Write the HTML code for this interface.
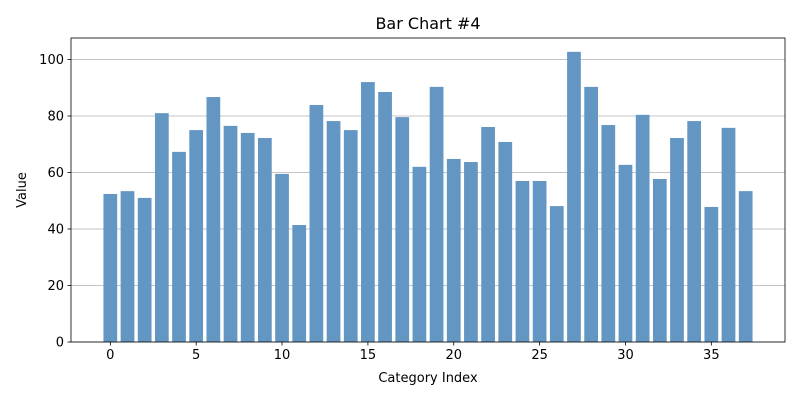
<!DOCTYPE html>
<html><head><meta charset="utf-8"><style>
body{margin:0;background:#fff;font-family:"Liberation Sans","DejaVu Sans",sans-serif}
svg text{font-family:"DejaVu Sans","Liberation Sans",sans-serif}
</style></head><body>
<svg id="chart" width="800" height="400"></svg>
<script>
const categories=[...Array(38).keys()];
const values=[52.4,53.4,51,81,67.3,75,86.7,76.5,74,72.2,59.5,41.4,83.9,78.2,75,92,88.5,79.6,62,90.3,64.8,63.7,76.1,70.8,57,57,48.1,102.7,90.3,76.8,62.7,80.4,57.7,72.2,78.2,47.8,75.8,53.4];
const xTicks=[0,5,10,15,20,25,30,35];
const yTicks=[0,20,40,60,80,100];
const L=71,R=785,T=38,B=342;
const xmin=-2.29,xmax=39.29,ymax=107.6;
const xs=v=>L+(v-xmin)/(xmax-xmin)*(R-L);
const ys=v=>B-v/ymax*(B-T);
const svg=document.getElementById('chart');
const NS='http://www.w3.org/2000/svg';
function mk(tag,attrs,parent){const e=document.createElementNS(NS,tag);for(const k in attrs)e.setAttribute(k,attrs[k]);(parent||svg).appendChild(e);return e;}
yTicks.forEach(v=>{
  const g=mk('line',{x1:L,x2:R,y1:ys(v),y2:ys(v),stroke:'#b0b0b0','stroke-width':0.8});
  
  
});
categories.forEach((c,i)=>{
  const w=0.8*(R-L)/(xmax-xmin);
  const r=mk('rect',{x:xs(c)-w/2,y:ys(values[i]),width:w,height:B-ys(values[i]),fill:'#6496c3'});
  
  
});
const frame=mk('rect',{x:L,y:T,width:R-L,height:B-T,fill:'none',stroke:'#000','stroke-width':0.8});


xTicks.forEach(v=>{
  mk('line',{x1:xs(v),x2:xs(v),y1:B,y2:B+3.5,stroke:'#000','stroke-width':0.8});
  const t=mk('text',{x:xs(v),y:B+17,'text-anchor':'middle','font-size':13});
  t.textContent=v;
  
  
});
yTicks.forEach(v=>{
  mk('line',{x1:L-3.5,x2:L,y1:ys(v),y2:ys(v),stroke:'#000','stroke-width':0.8});
  const t=mk('text',{x:L-7,y:ys(v)+4.5,'text-anchor':'end','font-size':13});
  t.textContent=v;
  
  
});
const title=mk('text',{x:(L+R)/2,y:29,'text-anchor':'middle','font-size':16});
title.textContent='Bar Chart #4';


const xl=mk('text',{x:(L+R)/2,y:382,'text-anchor':'middle','font-size':13});
xl.textContent='Category Index';


const yl=mk('text',{x:0,y:0,'text-anchor':'middle','font-size':13,transform:`translate(26,${(T+B)/2}) rotate(-90)`});
yl.textContent='Value';


</script>
</body></html>
